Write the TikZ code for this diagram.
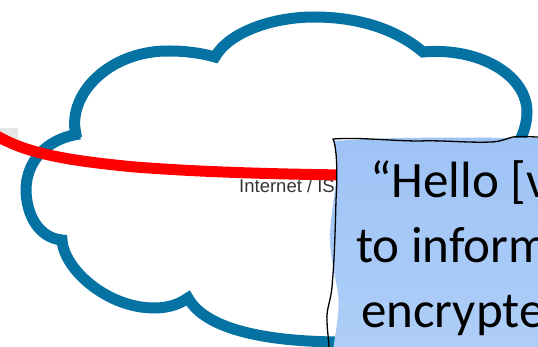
\documentclass[tikz,border=0pt]{standalone}
\usepackage{fontspec}
\setmainfont{Carlito}
\newfontfamily\labelfont{Liberation Sans}
\tikzset{
  cloudline/.style={draw=cloudblue,line width=11pt,line join=miter,miter limit=4},
  redline/.style={draw=red,line width=11pt},
  calloutbody/.style={top color=calloutA,bottom color=calloutB,draw=none},
  calloutedge/.style={draw=black,line width=1.3pt,line join=round},
  callouttext/.style={anchor=base west,inner sep=0pt,font=\fontsize{51}{60}\selectfont,text=black},
}
\definecolor{cloudblue}{HTML}{0472A3}
\definecolor{calloutA}{HTML}{9EC3F5}
\definecolor{calloutB}{HTML}{AECEF8}
\definecolor{graytab}{HTML}{E6E6E6}
\begin{document}
\begin{tikzpicture}[x=1pt,y=-1pt]
\useasboundingbox (0,0) rectangle (538,347);
\clip (0,0) rectangle (538,347);
% cloud
\draw[cloudline]
 (80,134) .. controls (54,137) and (27,155) .. (26,189)
 .. controls (26,215) and (39,238) .. (62,240)
 .. controls (64,270) and (108,308) .. (154,308)
 .. controls (167,308) and (178,305) .. (188,298)
 .. controls (206,330) and (268,343) .. (355,342)
 (75,130) .. controls (70,90) and (113,50) .. (170,51)
 .. controls (185,51) and (201,53) .. (215,57)
 .. controls (229,32) and (273,17) .. (314,17)
 .. controls (360,17) and (397,30) .. (423,52)
 .. controls (479,47) and (527,75) .. (527,112)
 .. controls (527,120) and (525,130) .. (520,140);
\fill[cloudblue] (70,128) -- (80,126) -- (82,137) -- (72,137) -- cycle;
% gray tab
\fill[graytab] (0,128) rectangle (18,145);
% label
\node[font=\labelfont\fontsize{18.5}{20}\selectfont,text=black!80,anchor=base west,inner sep=0pt] (isp) at (239,193) {Internet / ISP};
% red line
\coordinate (redstart) at (-3,136);
\coordinate (redend) at (345,175);
\draw[redline] (redstart) .. controls (25,152) and (60,160) .. (135,167) .. controls (200,172) and (270,174) .. (redend);
% callout
\path[calloutbody] (334,141) .. controls (400,136) and (480,138) .. (545,138) -- (545,350) -- (333,350)
  .. controls (336,330) and (340,310) .. (338,293) .. controls (334,270) and (329,250) .. (330,233) .. controls (331,210) and (337,190) .. (337,160) -- cycle;
\draw[calloutedge] (540,137) .. controls (530,137) and (520,136) .. (513,137)
  .. controls (505,139) and (500,142) .. (490,142)
  .. controls (470,143) and (440,140) .. (420,141) .. controls (390,141) and (360,137) .. (333,139)
  .. controls (338,150) and (337,185) .. (336,200)
  .. controls (335,240) and (334,265) .. (332,287)
  .. controls (331,300) and (326,310) .. (327,320) .. controls (327,330) and (329,340) .. (329,350);
\node[callouttext] (l1) at (370,198) {“Hello [v};
\node[callouttext] (l2) at (356,263) {to inform};
\node[callouttext] (l3) at (361,327) {encrypte};
\end{tikzpicture}
\end{document}
